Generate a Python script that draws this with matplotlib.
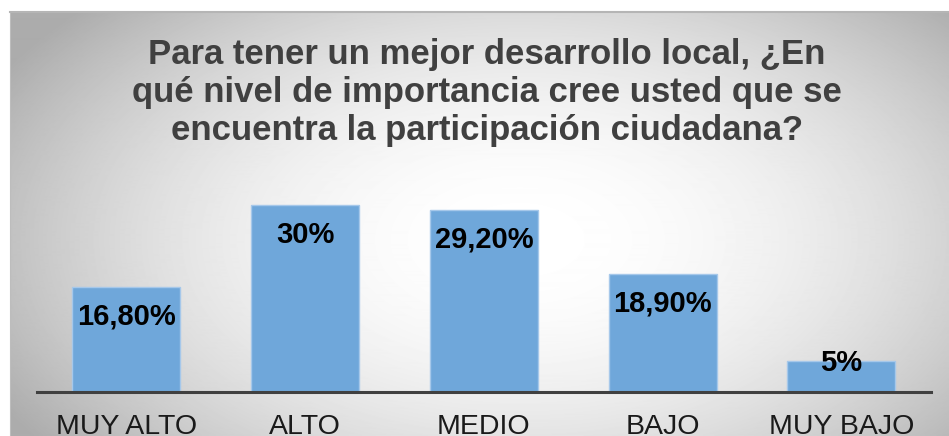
import numpy as np
import matplotlib
matplotlib.use("Agg")
import matplotlib.pyplot as plt

categories = ["MUY ALTO", "ALTO", "MEDIO", "BAJO", "MUY BAJO"]
values = [16.8, 30.0, 29.2, 18.9, 5.0]
value_labels = ["16,80%", "30%", "29,20%", "18,90%", "5%"]
title = ("Para tener un mejor desarrollo local, ¿En\n"
         "qué nivel de importancia cree usted que se\n"
         "encuentra la participación ciudadana?")

W, H = 949, 436
plt.rcParams['font.family'] = ['Liberation Sans', 'DejaVu Sans']
fig = plt.figure(figsize=(W / 100, H / 100), dpi=100)
fig.patch.set_facecolor('white')

# radial grey background of the chart area
bg = fig.add_axes([10 / W, 0, (W - 10) / W, (H - 12) / H], zorder=0)
yy, xx = np.mgrid[12:H, 10:W]
r2 = ((xx - 520) / 520.0) ** 2 + ((yy - 240) / 300.0) ** 2
shade = 1 - 0.25 * np.clip(r2, 0, 1.3)
bg.imshow(shade, cmap='gray', vmin=0, vmax=1, aspect='auto',
          extent=[0, 1, 0, 1], interpolation='bilinear')
bg.set_xlim(0, 1)
bg.set_ylim(0, 1)
for s in ['right', 'bottom']:
    bg.spines[s].set_visible(False)
bg.spines['top'].set_color('#b5b5b5')
bg.spines['top'].set_linewidth(1.5)
bg.spines['left'].set_color('#bdbdbd')
bg.set_xticks([])
bg.set_yticks([])

ax = fig.add_axes([37 / W, 44.4 / H, 893.7 / W, 217.7 / H], zorder=1)
ax.patch.set_alpha(0)
x = np.arange(len(categories))
ax.bar(x, values, width=0.605, color='#6fa7da', edgecolor='#a6c8ea', linewidth=1)
ax.set_xlim(-0.5, len(categories) - 0.5)
ax.set_ylim(0, 35)

for xi, v, lab in zip(x, values, value_labels):
    yl = v - 4.8 if v > 10 else v - 0.4
    ax.text(xi, yl, lab, ha='center', va='center', fontsize=21,
            fontweight='bold', color='black')

for s in ['left', 'right', 'top']:
    ax.spines[s].set_visible(False)
ax.spines['bottom'].set_color('#404040')
ax.spines['bottom'].set_linewidth(2.2)
ax.set_yticks([])
ax.set_xticks(x)
ax.set_xticklabels(categories, fontsize=20.5, color='#1a1a1a')
ax.tick_params(axis='x', length=0, pad=16)

fig.text(487 / W, 1 - 38 / H, title, ha='center', va='top', fontsize=25,
         fontweight='bold', color='#404040', linespacing=1.2)

fig.savefig('out.png', dpi=100)
